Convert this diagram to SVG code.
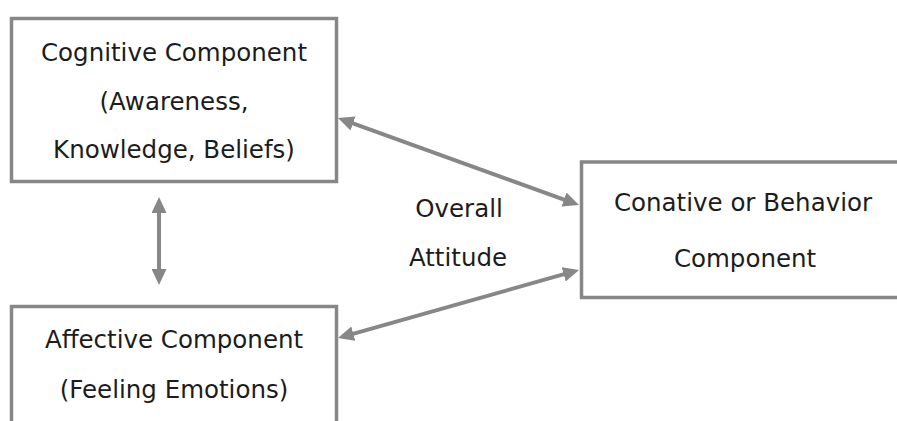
<svg xmlns="http://www.w3.org/2000/svg" width="897" height="421" viewBox="0 0 897 421">
<defs>
<style>
.box{fill:#ffffff;stroke:#878787;stroke-width:3.5}
.lbl{font-family:"DejaVu Sans",sans-serif;font-size:24.5px;fill:#1c1c1c;text-anchor:middle}
.con{stroke:#878787;stroke-width:4;fill:none;marker-start:url(#ah);marker-end:url(#ah)}
</style>
<marker id="ah" markerUnits="userSpaceOnUse" markerWidth="17" markerHeight="15" refX="6" refY="7.5" orient="auto-start-reverse" viewBox="0 0 17 15">
<path d="M0,0 L16,7.5 L0,15 z" fill="#878787"/>
</marker>
</defs>
<rect width="897" height="421" fill="#ffffff"/>
<g id="cognitive">
<rect class="box" x="11.5" y="18.5" width="325" height="163"/>
<text class="lbl" x="174" y="61">Cognitive Component</text>
<text class="lbl" x="174" y="110">(Awareness,</text>
<text class="lbl" x="174" y="158">Knowledge, Beliefs)</text>
</g>
<g id="affective">
<rect class="box" x="11.5" y="306.5" width="325" height="130"/>
<text class="lbl" x="174" y="348">Affective Component</text>
<text class="lbl" x="174" y="398">(Feeling Emotions)</text>
</g>
<g id="conative">
<rect class="box" x="581.5" y="162" width="330" height="135.5"/>
<text class="lbl" x="743" y="211">Conative or Behavior</text>
<text class="lbl" x="745" y="267">Component</text>
</g>
<g id="overall">
<text class="lbl" x="459" y="217">Overall</text>
<text class="lbl" x="458" y="266">Attitude</text>
</g>
<g id="connectors">
<line class="con" x1="159" y1="207" x2="159" y2="275"/>
<line class="con" x1="347.4" y1="121.4" x2="569.6" y2="201.6"/>
<line class="con" x1="569.4" y1="272.7" x2="347.6" y2="335.3"/>
</g>
</svg>
